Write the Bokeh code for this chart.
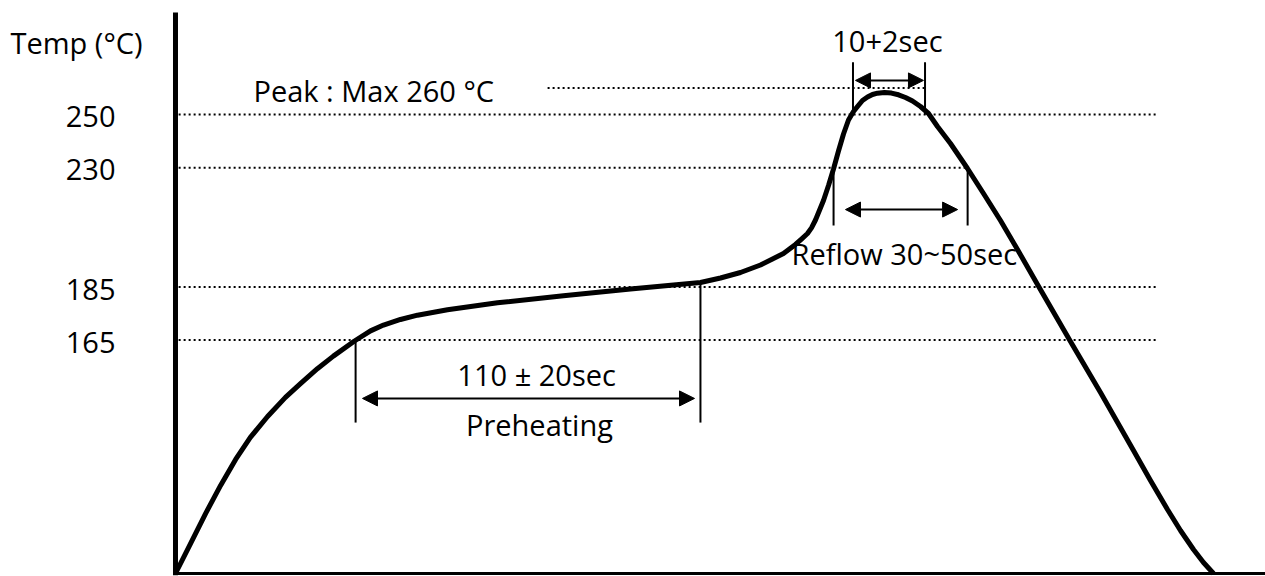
import numpy as np
from bokeh.plotting import figure
from bokeh.models import Range1d, Label, Arrow, NormalHead
from bokeh.core.properties import value
from bokeh.embed import file_html
from bokeh.resources import INLINE

# ---- data (schematic reflow profile) ----
profile_time = [0.0, 4.8, 9.6, 14.4, 19.2, 23.9, 29.4, 35.1, 39.9, 45.3, 50.4, 57.15,
                62.26, 66.41, 71.83, 77.26, 86.84, 102.80, 123.87, 145.26, 167.61,
                174.00, 180.38, 186.77, 194.11, 197.94, 199.86, 201.78, 203.05, 204.33,
                206.88, 208.48,
                210.08, 211.67, 213.27, 214.86, 216.46, 217.74, 219.33, 220.93, 222.53,
                224.12, 226.36, 228.59, 230.83, 233.06, 235.30, 237.85, 240.41, 243.28,
                247.43, 252.86, 257.97, 263.39, 268.82, 275.21, 285.74, 295.32, 305.86,
                311.28, 316.71, 320.86, 325.01, 328.20, 331.40]
profile_temp = [77.0, 88.3, 99.6, 110.2, 120.0, 128.3, 136.2, 143.4, 148.6, 154.21, 158.96, 164.65,
                168.46, 170.65, 172.76, 174.38, 176.42, 179.06, 181.73, 184.26, 186.71,
                188.41, 190.48, 193.31, 197.64, 201.04, 203.07, 205.18, 207.29, 210.27,
                217.62, 223.28,
                229.50, 236.29, 242.69, 247.97, 251.18, 253.06, 255.32, 256.64, 257.59,
                258.08, 258.34, 258.11, 257.47, 256.45, 255.14, 253.06, 250.42, 245.52,
                239.11, 229.69, 220.26, 210.08, 199.15, 185.96, 164.47, 145.24, 123.37,
                112.06, 101.13, 93.21, 86.05, 81.15, 77.0]
temp_levels = [250, 230, 185, 165]
temp_labels = ["250", "230", "185", "165"]
peak_temp = 260
preheat_window = [57.5, 167.6]   # s
reflow_window = [210.1, 252.9]   # s
peak_window = [216.3, 239.3]     # s

FONT = "Open Sans"
FS = "29px"

p = figure(width=1265, height=576, x_range=Range1d(-55.87, 348.0),
           y_range=Range1d(75.87, 293.02), x_axis_type=None, y_axis_type=None,
           output_backend="svg", toolbar_location=None,
           min_border_left=0, min_border_right=0, min_border_top=0, min_border_bottom=0)
p.grid.visible = False
p.outline_line_color = None
p.background_fill_color = "white"
p.border_fill_color = "white"

# axes lines
p.segment(x0=[0], y0=[76.3], x1=[0], y1=[288.5], line_color="black", line_width=5,
          line_cap="butt")
p.segment(x0=[-0.6], y0=[77], x1=[348], y1=[77], line_color="black", line_width=3,
          line_cap="butt")

# tick labels
p.text(x=[-19.16] * len(temp_levels), y=temp_levels, text=temp_labels,
       text_align="right", text_baseline="alphabetic", y_offset=2,
       text_font=value(FONT), text_font_size=value(FS), text_color="black")

dot = dict(line_color="black", line_width=2, line_dash="2 3")

# dotted reference levels
level_end = {250: 313.5, 230: reflow_window[1], 185: 313.5, 165: 313.8}
for lv in temp_levels:
    p.segment(x0=[1], y0=[lv], x1=[level_end[lv]], y1=[lv], **dot)
# peak level
p.segment(x0=[118.8], y0=[peak_temp], x1=[peak_window[1]], y1=[peak_temp], **dot)

# profile curve
p.line(profile_time, profile_temp, line_color="black", line_width=5, line_join="round")

solid = dict(line_color="black", line_width=2)
# preheating markers (start on the curve)
for t in preheat_window:
    top = float(np.interp(t, profile_time, profile_temp))
    p.segment(x0=[t], y0=[top], x1=[t], y1=[133.9], **solid)
# reflow markers
for t in reflow_window:
    p.segment(x0=[t], y0=[230], x1=[t], y1=[208.2], **solid)
# peak markers
for t in peak_window:
    p.segment(x0=[t], y0=[269.7], x1=[t], y1=[250], **solid)


def dbl_arrow(x0, x1, y):
    head = dict(size=15, fill_color="black", line_color="black", line_width=1)
    p.add_layout(Arrow(start=NormalHead(**head), end=NormalHead(**head),
                       x_start=x0, y_start=y, x_end=x1, y_end=y,
                       line_color="black", line_width=2))


dbl_arrow(preheat_window[0] + 2.2, preheat_window[1] - 1.9, 143.0)
dbl_arrow(reflow_window[0] + 3.8, reflow_window[1] - 3.2, 214.2)
dbl_arrow(peak_window[0] + 0.8, peak_window[1] - 0.5, 262.9)


def label(x, y, text, align="left"):
    p.add_layout(Label(x=x, y=y, text=text, text_font=FONT, text_font_size=FS,
                       text_color="black", text_align=align, text_baseline="alphabetic"))


label(-52.68, 277.0, "Temp (°C)")
label(24.9, 259.1, "Peak : Max 260 °C")
label(227.3, 277.9, "10+2sec", "center")
label(232.7, 197.8, "Reflow 30~50sec", "center")
label(115.3, 152.0, "110 ± 20sec", "center")
label(116.2, 133.2, "Preheating", "center")

open("out.html", "w").write(file_html(p, INLINE))
